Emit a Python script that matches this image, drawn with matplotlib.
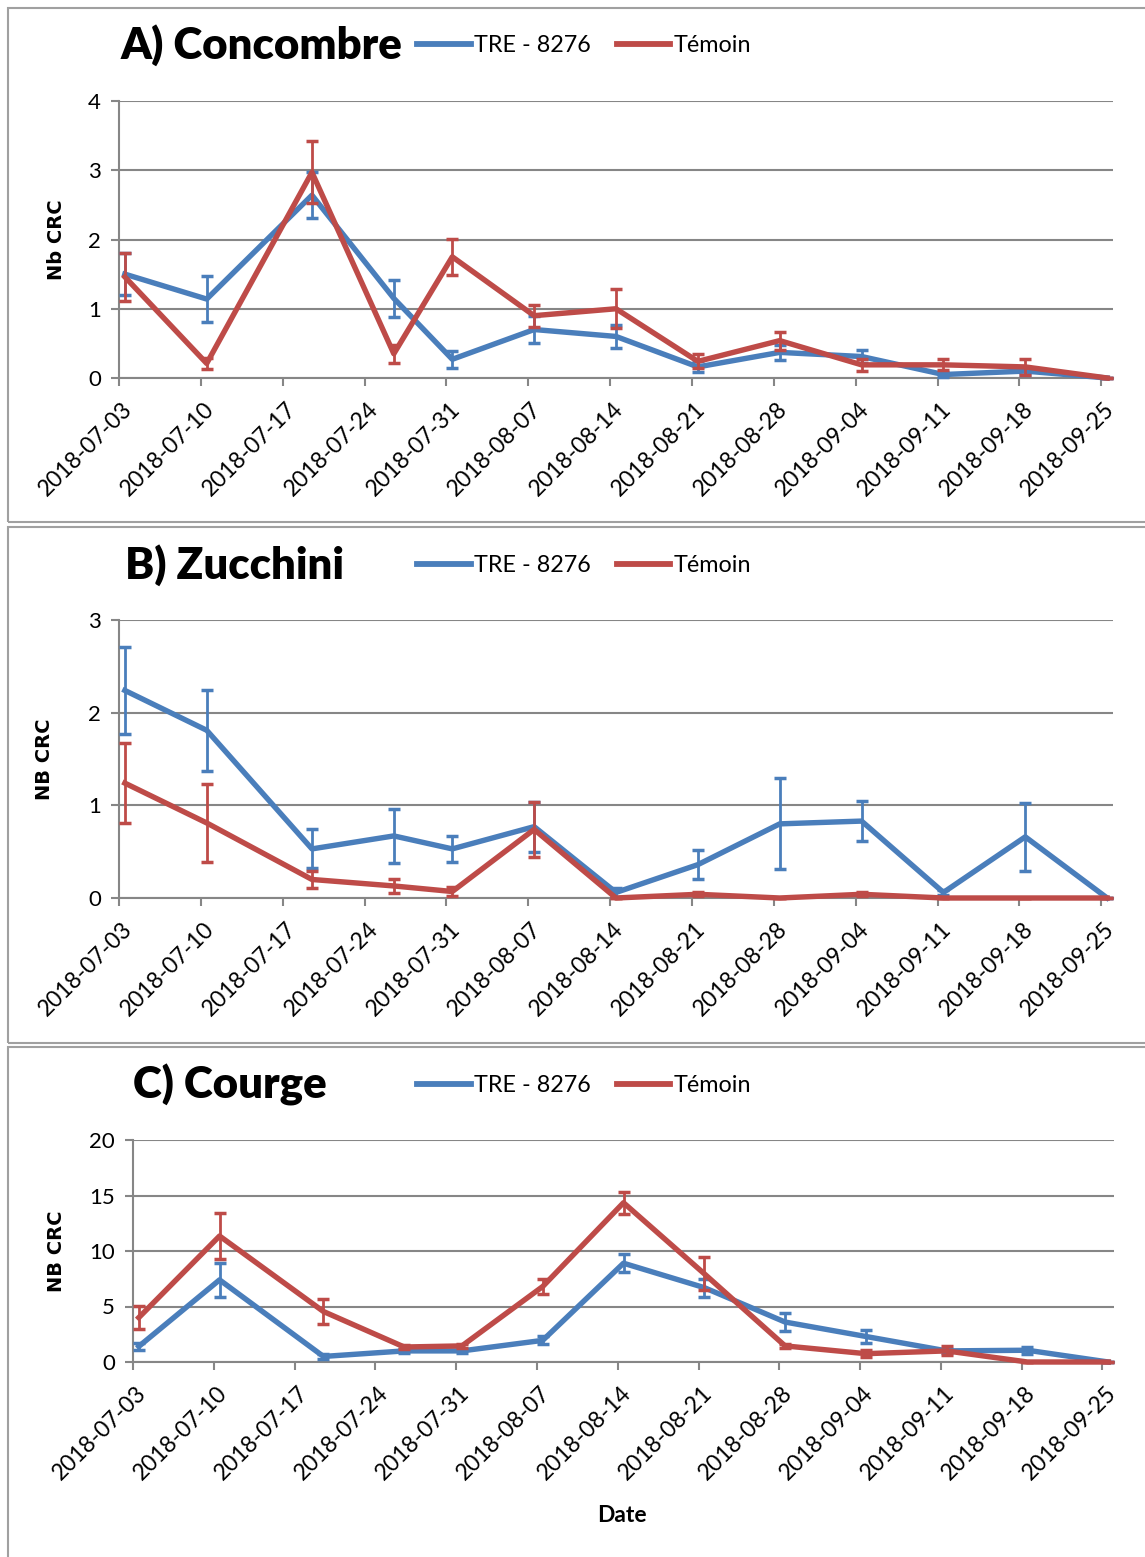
import matplotlib.pyplot as plt
from matplotlib.patches import Rectangle
from matplotlib.lines import Line2D
import matplotlib.transforms as mtransforms
import numpy as np

plt.rcParams['font.family'] = ['Lato', 'DejaVu Sans']

# === Données ===
days = [0, 7, 16, 23, 28, 35, 42, 49, 56, 63, 70, 77, 84]
tick_days = [0, 7, 14, 21, 28, 35, 42, 49, 56, 63, 70, 77, 84]
tick_labels = ['2018-07-03', '2018-07-10', '2018-07-17', '2018-07-24', '2018-07-31',
               '2018-08-07', '2018-08-14', '2018-08-21', '2018-08-28', '2018-09-04',
               '2018-09-11', '2018-09-18', '2018-09-25']

A_tre = [1.50, 1.14, 2.64, 1.15, 0.27, 0.70, 0.60, 0.16, 0.37, 0.31, 0.05, 0.10, 0.0]
A_tre_err = [0.30, 0.33, 0.33, 0.27, 0.12, 0.20, 0.16, 0.08, 0.11, 0.10, 0.03, 0.05, 0.0]
A_tem = [1.46, 0.21, 2.97, 0.35, 1.75, 0.90, 1.00, 0.24, 0.54, 0.19, 0.19, 0.16, 0.0]
A_tem_err = [0.35, 0.08, 0.45, 0.13, 0.26, 0.16, 0.28, 0.10, 0.13, 0.09, 0.08, 0.11, 0.0]

B_tre = [2.24, 1.81, 0.53, 0.67, 0.53, 0.77, 0.06, 0.36, 0.80, 0.83, 0.06, 0.66, 0.0]
B_tre_err = [0.47, 0.44, 0.21, 0.29, 0.14, 0.27, 0.05, 0.16, 0.49, 0.22, 0.03, 0.37, 0.0]
B_tem = [1.24, 0.81, 0.20, 0.13, 0.07, 0.74, 0.0, 0.04, 0.0, 0.04, 0.0, 0.0, 0.0]
B_tem_err = [0.43, 0.42, 0.09, 0.08, 0.05, 0.30, 0.0, 0.02, 0.0, 0.02, 0.0, 0.0, 0.0]

C_tre = [1.4, 7.4, 0.5, 1.0, 1.0, 1.95, 8.9, 6.7, 3.6, 2.3, 1.0, 1.06, 0.0]
C_tre_err = [0.3, 1.5, 0.2, 0.2, 0.2, 0.35, 0.8, 0.8, 0.8, 0.6, 0.2, 0.3, 0.0]
C_tem = [4.0, 11.35, 4.55, 1.35, 1.45, 6.8, 14.35, 7.95, 1.45, 0.75, 1.0, 0.0, 0.0]
C_tem_err = [1.05, 2.1, 1.1, 0.2, 0.2, 0.65, 1.0, 1.5, 0.2, 0.3, 0.4, 0.0, 0.0]

BLUE = '#4A7EBB'
RED = '#BE4B48'
GRID = '#868686'

W, H = 1145, 1557
fig = plt.figure(figsize=(W / 100, H / 100), dpi=100)


def px(x0, y_top, x1, y_bot):
    """pixels -> figure coords [left, bottom, width, height]"""
    return [x0 / W, 1 - y_bot / H, (x1 - x0) / W, (y_bot - y_top) / H]


panels = [
    # titre, ylabel, données, ymax, pas, axes px, cadre px, titre px, ylabel x, légende y
    ('A) Concombre', 'Nb CRC', (A_tre, A_tre_err, A_tem, A_tem_err), 4, 1,
     (119, 101, 1113, 378), (8, 8, 1150, 522), (121, 45), 57, 46),
    ('B) Zucchini', 'NB CRC', (B_tre, B_tre_err, B_tem, B_tem_err), 3, 1,
     (119, 620, 1113, 898), (8, 527, 1150, 1043), (125, 565), 45, 566),
    ('C) Courge', 'NB CRC', (C_tre, C_tre_err, C_tem, C_tem_err), 20, 5,
     (133, 1140, 1114, 1362), (8, 1047, 1150, 1565), (133, 1085), 57, 1086),
]

x = np.array(days) + 0.5
# position des étiquettes de dates (façon Excel) : décalées à droite et vers le bas
lab_shift = mtransforms.ScaledTranslation(10 / 100, -28 / 100, fig.dpi_scale_trans)

for title, ylab, (tre, tre_err, tem, tem_err), ymax, step, ax_px, box_px, t_px, ylx, leg_y in panels:
    # cadre du graphique
    bx0, by0, bx1, by1 = box_px
    fig.add_artist(Rectangle((bx0 / W, 1 - by1 / H), (bx1 - bx0) / W, (by1 - by0) / H,
                             transform=fig.transFigure, fill=False,
                             edgecolor='#A0A0A0', lw=1.5))

    ax = fig.add_axes(px(*ax_px))
    ax.errorbar(x, tre, yerr=tre_err, color=BLUE, lw=3.9, elinewidth=2.0,
                capsize=4.3, capthick=2.5, zorder=3, clip_on=False)
    ax.errorbar(x, tem, yerr=tem_err, color=RED, lw=3.9, elinewidth=2.0,
                capsize=4.3, capthick=2.5, zorder=4, clip_on=False)

    ax.set_xlim(0, 85)
    ax.set_ylim(0, ymax)
    ax.set_yticks(np.arange(0, ymax + step / 2, step))
    ax.set_xticks(tick_days)
    ax.tick_params(axis='x', length=6, width=1.5, color=GRID, labelbottom=False)
    for d, lab in zip(tick_days, tick_labels):
        ax.text(d, 0, lab, transform=ax.get_xaxis_transform() + lab_shift,
                rotation=45, ha='right', va='center', rotation_mode='anchor',
                fontsize=16.5)
    ax.tick_params(axis='y', length=6, width=1.5, color=GRID, labelsize=16, pad=7)
    ax.yaxis.grid(True, color=GRID, lw=1.5)
    ax.set_axisbelow(True)
    for s in ['top', 'right']:
        ax.spines[s].set_visible(False)
    for s in ['left', 'bottom']:
        ax.spines[s].set_color(GRID)
        ax.spines[s].set_linewidth(1.5)

    # titre
    fig.text(t_px[0] / W, 1 - t_px[1] / H, title, fontsize=31.5, fontweight='heavy',
             ha='left', va='center')
    # axe y
    cy = (ax_px[1] + ax_px[3]) / 2
    fig.text(ylx / W, 1 - cy / H, ylab, rotation=90, fontsize=14, fontweight='bold',
             family='DejaVu Sans', ha='center', va='center')

    # légende
    handles = [Line2D([], [], color=BLUE, lw=4.2), Line2D([], [], color=RED, lw=4.2)]
    fig.legend(handles, ['TRE - 8276', 'Témoin'], loc='center left',
               bbox_to_anchor=(417 / W, 1 - leg_y / H), ncol=2, frameon=False,
               fontsize=16.8, handlelength=2.3, handletextpad=0.15,
               columnspacing=1.1, borderpad=0, borderaxespad=0)

fig.text(622 / W, 1 - 1515 / H, 'Date', fontsize=16.5, fontweight='bold',
         ha='center', va='center')

plt.savefig('out.png', dpi=100)
